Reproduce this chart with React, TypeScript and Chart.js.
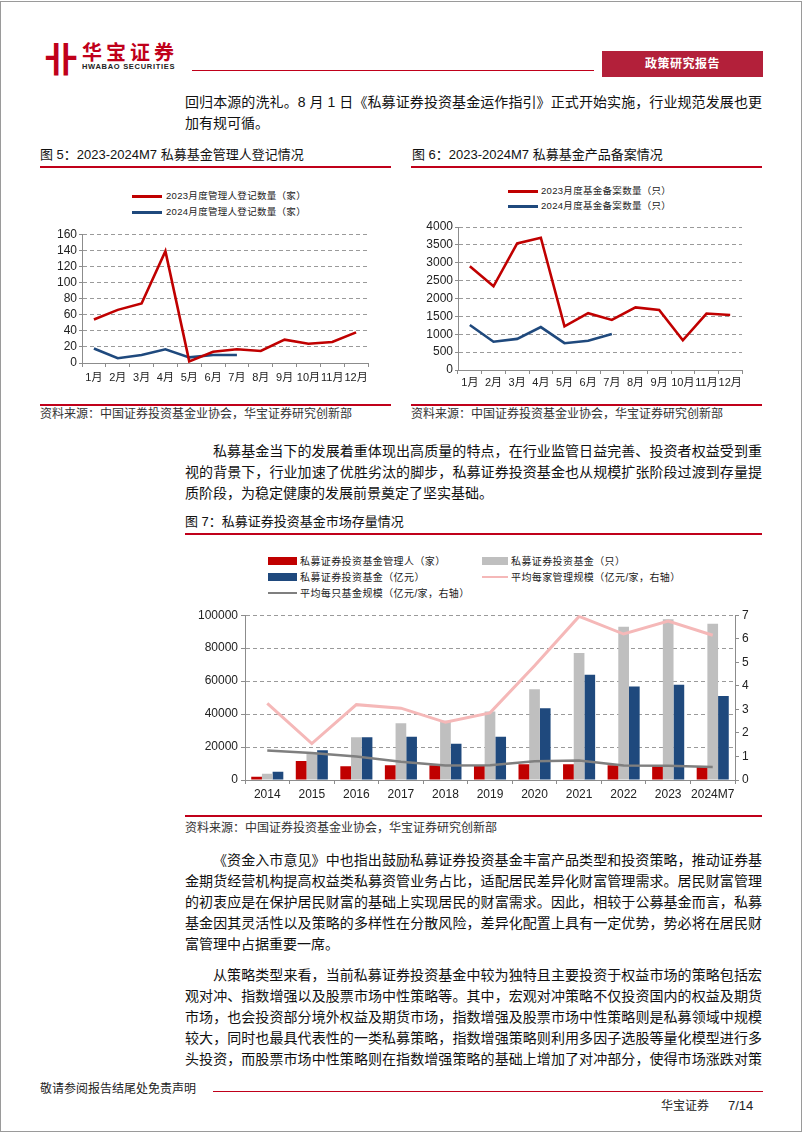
import React, { useEffect, useRef } from 'react';
import { Chart, registerables } from 'chart.js';

Chart.register(...registerables);

// ---------- data ----------
const months = ['1月', '2月', '3月', '4月', '5月', '6月', '7月', '8月', '9月', '10月', '11月', '12月'];
const managers2023 = [54, 66, 74, 139, 2, 14, 17, 15, 29, 24, 26, 38];
const managers2024 = [18, 6, 10, 17, 7, 10, 10];
const managerTicks = [0, 20, 40, 60, 80, 100, 120, 140, 160];

const products2023 = [2900, 2340, 3540, 3700, 1220, 1590, 1400, 1750, 1680, 830, 1580, 1540];
const products2024 = [1260, 790, 870, 1200, 750, 820, 1010];
const productTicks = [0, 500, 1000, 1500, 2000, 2500, 3000, 3500, 4000];

const years = ['2014', '2015', '2016', '2017', '2018', '2019', '2020', '2021', '2022', '2023', '2024M7'];
const managerCount = [2000, 11500, 8400, 8900, 9000, 8500, 9500, 9500, 9000, 8500, 8000];
const fundCount = [3800, 16000, 26000, 34500, 36000, 41500, 55000, 77000, 93000, 97500, 94800];
const fundScale = [5000, 18000, 26000, 26200, 22000, 26200, 43500, 63800, 56800, 57800, 51000];
const avgPerManager = [3.25, 1.55, 3.2, 3.05, 2.45, 2.85, 4.85, 6.95, 6.2, 6.75, 6.15];
const avgPerFund = [1.25, 1.15, 1.0, 0.78, 0.62, 0.63, 0.8, 0.83, 0.62, 0.6, 0.55];
const leftTicks3 = [0, 20000, 40000, 60000, 80000, 100000];
const rightTicks3 = [0, 1, 2, 3, 4, 5, 6, 7];

// ---------- styles ----------
const RED = '#c00000';
const NAVY = '#1f497d';
const GRAY_BAR = '#bfbfbf';
const PINK = '#f5b8b8';
const GRAY_LINE = '#7f7f7f';
const AXIS = '#8c8c8c';
const GRID = '#9a9a9a';
const FONT = '"Liberation Sans", Arial, "Noto Sans CJK SC", sans-serif';
const CJK = '"Liberation Sans", Arial, "Noto Sans CJK SC", sans-serif';
const PAGE_RED = '#c0001a';

const plain = (v: any) => String(v);

function lineConfig(
  a: number[],
  b: number[],
  tickVals: number[],
  yWidth: number,
  xHeight: number,
  pad: { top: number; right: number },
  xPad: number
): any {
  return {
    type: 'line',
    data: {
      labels: months,
      datasets: [
        { data: a, borderColor: RED, borderWidth: 2.6, pointRadius: 0, tension: 0, fill: false },
        { data: b, borderColor: NAVY, borderWidth: 2.6, pointRadius: 0, tension: 0, fill: false },
      ],
    },
    options: {
      responsive: false,
      animation: false,
      layout: { padding: { top: pad.top, right: pad.right, left: 0, bottom: 0 } },
      plugins: { legend: { display: false }, tooltip: { enabled: false } },
      scales: {
        x: {
          offset: true,
          grid: { offset: true, drawOnChartArea: false, drawTicks: true, tickLength: 4, color: AXIS, lineWidth: 1 },
          border: { display: true, color: AXIS, width: 1 },
          ticks: { padding: xPad, color: '#222', font: { family: FONT, size: 11 }, maxRotation: 0, autoSkip: false },
          afterFit: (s: any) => {
            s.height = xHeight;
          },
        },
        y: {
          min: tickVals[0],
          max: tickVals[tickVals.length - 1],
          afterBuildTicks: (s: any) => {
            s.ticks = tickVals.map((v) => ({ value: v }));
          },
          grid: { color: GRID, lineWidth: 1, tickLength: 3, tickColor: AXIS, drawTicks: true },
          border: { display: true, color: AXIS, width: 1, dash: [4, 3] },
          ticks: { padding: 2, color: '#222', font: { family: FONT, size: 12 }, autoSkip: false, callback: plain },
          afterFit: (s: any) => {
            s.width = yWidth;
          },
        },
      },
    },
  };
}

const chart1Config = () => lineConfig(managers2023, managers2024, managerTicks, 42, 32, { top: 8, right: 12 }, 4);
const chart2Config = () => lineConfig(products2023, products2024, productTicks, 48, 30, { top: 12, right: 18 }, 2);

const chart3Config = (): any => ({
  type: 'bar',
  data: {
    labels: years,
    datasets: [
      { type: 'bar', data: managerCount, backgroundColor: RED, yAxisID: 'y', order: 2 },
      { type: 'bar', data: fundCount, backgroundColor: GRAY_BAR, yAxisID: 'y', order: 2 },
      { type: 'bar', data: fundScale, backgroundColor: NAVY, yAxisID: 'y', order: 2 },
      { type: 'line', data: avgPerManager, borderColor: PINK, borderWidth: 3, pointRadius: 0, tension: 0, yAxisID: 'y1', order: 0 },
      { type: 'line', data: avgPerFund, borderColor: GRAY_LINE, borderWidth: 2.5, pointRadius: 0, tension: 0, yAxisID: 'y1', order: 0 },
    ],
  },
  options: {
    responsive: false,
    animation: false,
    layout: { padding: { top: 10, right: 0, left: 0, bottom: 0 } },
    plugins: { legend: { display: false }, tooltip: { enabled: false } },
    datasets: { bar: { categoryPercentage: 0.72, barPercentage: 1.0 } },
    scales: {
      x: {
        offset: true,
        grid: { offset: true, drawOnChartArea: false, drawTicks: true, tickLength: 4, color: AXIS },
        border: { display: true, color: AXIS },
        ticks: { padding: 3, color: '#222', font: { family: FONT, size: 12 }, maxRotation: 0, autoSkip: false },
        afterFit: (s: any) => {
          s.height = 25;
        },
      },
      y: {
        position: 'left',
        min: 0,
        max: 100000,
        afterBuildTicks: (s: any) => {
          s.ticks = leftTicks3.map((v) => ({ value: v }));
        },
        grid: { color: GRID, tickLength: 4, tickColor: AXIS },
        border: { display: true, color: AXIS, dash: [4, 3] },
        ticks: { padding: 3, color: '#222', font: { family: FONT, size: 12 }, autoSkip: false, callback: plain },
        afterFit: (s: any) => {
          s.width = 55;
        },
      },
      y1: {
        position: 'right',
        min: 0,
        max: 7,
        afterBuildTicks: (s: any) => {
          s.ticks = rightTicks3.map((v) => ({ value: v }));
        },
        grid: { drawOnChartArea: false, tickLength: 4, color: AXIS },
        border: { display: true, color: AXIS },
        ticks: { padding: 3, color: '#222', font: { family: FONT, size: 12 }, autoSkip: false, callback: plain },
        afterFit: (s: any) => {
          s.width = 35;
        },
      },
    },
  },
});

function ChartCanvas({ left, top, width, height, make }: { left: number; top: number; width: number; height: number; make: () => any }) {
  const ref = useRef<HTMLCanvasElement>(null);
  useEffect(() => {
    const chart = new Chart(ref.current as HTMLCanvasElement, make());
    return () => chart.destroy();
  }, []);
  return (
    <canvas
      ref={ref}
      width={width}
      height={height}
      style={{ position: 'absolute', left, top, width, height, display: 'block' }}
    />
  );
}

// ---------- text helpers ----------
function T({
  x,
  y,
  size = 14,
  color = '#111',
  weight = 400,
  family = CJK,
  w,
  justify = false,
  ls = 0,
  children,
}: any) {
  const h = Math.round(size * 1.5);
  const st: any = {
    position: 'absolute',
    left: x,
    top: y - h / 2,
    height: h,
    lineHeight: h + 'px',
    fontSize: size,
    color,
    fontWeight: weight,
    fontFamily: family,
    whiteSpace: 'nowrap',
    letterSpacing: ls,
  };
  if (w) {
    st.width = w;
  }
  if (justify) {
    st.textAlign = 'justify';
    st.textAlignLast = 'justify';
  }
  return <div style={st}>{children}</div>;
}

function Rect({ x, y, w, h, c }: any) {
  return <div style={{ position: 'absolute', left: x, top: y, width: w, height: h, background: c }} />;
}

const TX = 185;
const TW = 577;
const IND = 28;

function Body({ lines, startY, indentFirst = true, lastFull = false }: any) {
  return (
    <>
      {lines.map((ln: string, i: number) => {
        const isLast = i === lines.length - 1;
        const ind = indentFirst && i === 0 ? IND : 0;
        return (
          <T key={i} x={TX + ind} y={startY + i * 21} size={14} w={TW - ind} justify={!isLast || lastFull} color="#111">
            {ln}
          </T>
        );
      })}
    </>
  );
}

const paraA = ['回归本源的洗礼。8 月 1 日《私募证券投资基金运作指引》正式开始实施，行业规范发展也更', '加有规可循。'];
const paraB = [
  '私募基金当下的发展着重体现出高质量的特点，在行业监管日益完善、投资者权益受到重',
  '视的背景下，行业加速了优胜劣汰的脚步，私募证券投资基金也从规模扩张阶段过渡到存量提',
  '质阶段，为稳定健康的发展前景奠定了坚实基础。',
];
const paraC = [
  '《资金入市意见》中也指出鼓励私募证券投资基金丰富产品类型和投资策略，推动证券基',
  '金期货经营机构提高权益类私募资管业务占比，适配居民差异化财富管理需求。居民财富管理',
  '的初衷应是在保护居民财富的基础上实现居民的财富需求。因此，相较于公募基金而言，私募',
  '基金因其灵活性以及策略的多样性在分散风险，差异化配置上具有一定优势，势必将在居民财',
  '富管理中占据重要一席。',
];
const paraD = [
  '从策略类型来看，当前私募证券投资基金中较为独特且主要投资于权益市场的策略包括宏',
  '观对冲、指数增强以及股票市场中性策略等。其中，宏观对冲策略不仅投资国内的权益及期货',
  '市场，也会投资部分境外权益及期货市场，指数增强及股票市场中性策略则是私募领域中规模',
  '较大，同时也最具代表性的一类私募策略，指数增强策略则利用多因子选股等量化模型进行多',
  '头投资，而股票市场中性策略则在指数增强策略的基础上增加了对冲部分，使得市场涨跌对策',
];

function LegendLine({ x, y, w, c, h = 3, text, tx, size = 9.5, ls = 0.3 }: any) {
  return (
    <>
      <Rect x={x} y={y - h / 2} w={w} h={h} c={c} />
      <T x={tx} y={y} size={size} color="#222" ls={ls}>
        {text}
      </T>
    </>
  );
}

export default function App() {
  useEffect(() => {
    document.body.style.margin = '0';
  }, []);
  return (
    <div style={{ position: 'absolute', left: 0, top: 0, width: 802, height: 1133, background: '#fff', overflow: 'hidden' }}>
      {/* page border */}
      <div
        style={{
          position: 'absolute',
          left: 0,
          top: 1,
          width: 802,
          height: 1131,
          border: '1px solid #9a9a9a',
          boxSizing: 'border-box',
        }}
      />

      {/* header */}
      <T x={44} y={60} size={34} color={PAGE_RED} weight={700}>
        卝
      </T>
      <T x={82} y={53} size={20} color={PAGE_RED} weight={700} ls={4}>
        华宝证券
      </T>
      <T x={82} y={66.5} size={7.5} color="#222" weight={700} family={FONT} ls={0.7}>
        HWABAO SECURITIES
      </T>
      <Rect x={192} y={69.5} w={402} h={1.5} c={PAGE_RED} />
      <Rect x={602} y={51} w={161} h={26} c="#b3203a" />
      <T x={602} y={64} size={12} color="#fff" weight={700} w={161}>
        <div style={{ textAlign: 'center', letterSpacing: 0.5 }}>政策研究报告</div>
      </T>

      <Body lines={paraA} startY={102} indentFirst={false} />

      {/* figure 5 & 6 titles */}
      <T x={40} y={155} size={13}>
        图 5：2023-2024M7 私募基金管理人登记情况
      </T>
      <Rect x={40} y={166} w={351} h={2} c={PAGE_RED} />
      <T x={412} y={155} size={13}>
        图 6：2023-2024M7 私募基金产品备案情况
      </T>
      <Rect x={411} y={166} w={351} h={2} c={PAGE_RED} />

      {/* chart 1 legend */}
      <LegendLine x={132} y={196} w={30} c={RED} text="2023月度管理人登记数量（家）" tx={166} />
      <LegendLine x={132} y={212} w={30} c={NAVY} text="2024月度管理人登记数量（家）" tx={166} />
      <ChartCanvas left={40} top={225} width={340} height={170} make={chart1Config} />

      {/* chart 2 legend */}
      <LegendLine x={508} y={191} w={30} c={RED} text="2023月度基金备案数量（只）" tx={541} />
      <LegendLine x={508} y={206} w={30} c={NAVY} text="2024月度基金备案数量（只）" tx={541} />
      <ChartCanvas left={410} top={215} width={350} height={185} make={chart2Config} />

      <Rect x={40} y={404} w={351} h={2} c={PAGE_RED} />
      <Rect x={411} y={404} w={351} h={2} c={PAGE_RED} />
      <T x={40} y={414} size={12} color="#333">
        资料来源：中国证券投资基金业协会，华宝证券研究创新部
      </T>
      <T x={411} y={414} size={12} color="#333">
        资料来源：中国证券投资基金业协会，华宝证券研究创新部
      </T>

      <Body lines={paraB} startY={451} />

      {/* figure 7 */}
      <T x={185} y={522} size={13}>
        图 7：私募证券投资基金市场存量情况
      </T>
      <Rect x={185} y={533} w={577} h={2} c={PAGE_RED} />

      {/* chart 3 legend */}
      <Rect x={268} y={557} w={29} h={8} c={RED} />
      <T x={300} y={561} size={10} color="#222" ls={0.4}>
        私募证券投资基金管理人（家）
      </T>
      <Rect x={482} y={557} w={26} h={8} c={GRAY_BAR} />
      <T x={511} y={561} size={10} color="#222" ls={0.4}>
        私募证券投资基金（只）
      </T>
      <Rect x={268} y={573} w={29} h={8} c={NAVY} />
      <T x={300} y={577} size={10} color="#222" ls={0.4}>
        私募证券投资基金（亿元）
      </T>
      <LegendLine x={482} y={577} w={26} c={PINK} h={2.5} text="平均每家管理规模（亿元/家，右轴）" tx={511} size={10} ls={0.4} />
      <LegendLine x={268} y={593} w={29} c={GRAY_LINE} h={2.5} text="平均每只基金规模（亿元/家，右轴）" tx={300} size={10} ls={0.4} />

      <ChartCanvas left={190} top={605} width={580} height={200} make={chart3Config} />

      <Rect x={185} y={815} w={577} h={2} c={PAGE_RED} />
      <T x={185} y={828} size={12} color="#333">
        资料来源：中国证券投资基金业协会，华宝证券研究创新部
      </T>

      <Body lines={paraC} startY={860} />
      <Body lines={paraD} startY={975} lastFull={true} />

      {/* footer */}
      <T x={40} y={1089} size={12} color="#222">
        敬请参阅报告结尾处免责声明
      </T>
      <Rect x={213} y={1090.5} w={550} h={1.5} c={PAGE_RED} />
      <T x={661} y={1106} size={12} color="#222">
        华宝证券
      </T>
      <T x={728} y={1106} size={13} color="#222" family={FONT}>
        7/14
      </T>
    </div>
  );
}
